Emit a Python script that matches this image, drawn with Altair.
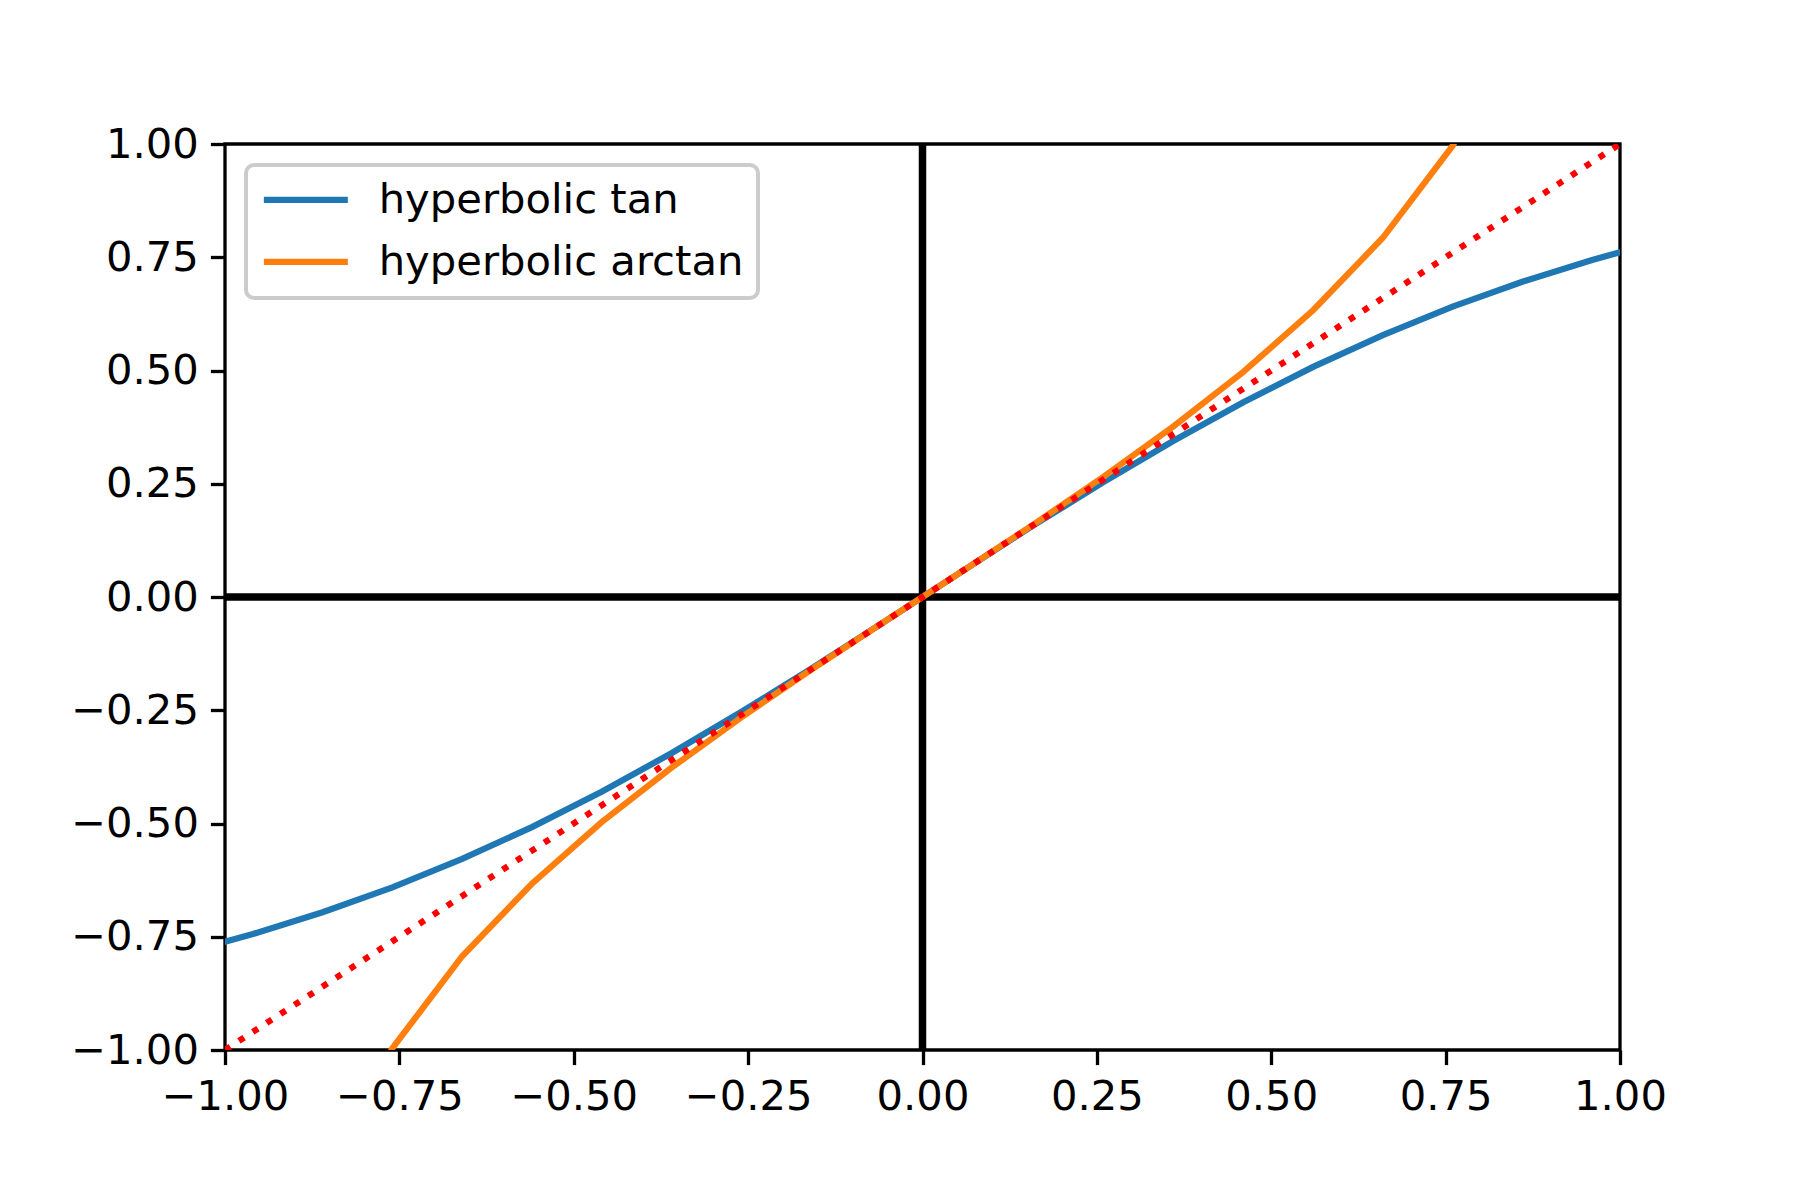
"""Hyperbolic tan / arctan against the identity line, drawn with altair."""

import altair as alt
import pandas as pd


LINE_WIDTH = 6.25
ZERO_LINE_WIDTH = 7.5
SPINE_WIDTH = 3.3
FONT = "DejaVu Sans"
FONT_SIZE = 41.7
PLOT_WIDTH = 1395
PLOT_HEIGHT = 906

# sample points
x_tan = [-1.06, -0.96, -0.86, -0.76, -0.66, -0.56, -0.46, -0.36, -0.26, -0.16, -0.06,
         0.06, 0.16, 0.26, 0.36, 0.46, 0.56, 0.66, 0.76, 0.86, 0.96, 1.06]
y_tan = [-0.786, -0.744, -0.696, -0.641, -0.578, -0.508, -0.430, -0.345, -0.254, -0.159, -0.060,
         0.060, 0.159, 0.254, 0.345, 0.430, 0.508, 0.578, 0.641, 0.696, 0.744, 0.786]

x_arctan = [-0.86, -0.76, -0.66, -0.56, -0.46, -0.36, -0.26, -0.16, -0.06,
            0.06, 0.16, 0.26, 0.36, 0.46, 0.56, 0.66, 0.76, 0.86]
y_arctan = [-1.293, -0.996, -0.793, -0.633, -0.497, -0.377, -0.266, -0.161, -0.060,
            0.060, 0.161, 0.266, 0.377, 0.497, 0.633, 0.793, 0.996, 1.293]

x_identity = [-1.0, 1.0]
y_identity = [-1.0, 1.0]

tick_values = [-1.0, -0.75, -0.5, -0.25, 0.0, 0.25, 0.5, 0.75, 1.0]
series_names = ["hyperbolic tan", "hyperbolic arctan"]
series_colors = ["#1f77b4", "#ff7f0e"]

curves = pd.concat([
    pd.DataFrame({"x": x_tan, "y": y_tan, "series": series_names[0]}),
    pd.DataFrame({"x": x_arctan, "y": y_arctan, "series": series_names[1]}),
])
identity = pd.DataFrame({"x": x_identity, "y": y_identity})
zero = pd.DataFrame({"v": [0.0]})

x_enc = alt.X("x:Q", title=None, scale=alt.Scale(domain=[-1, 1], nice=False, zero=False),
              axis=alt.Axis(values=tick_values, format=".2f"))
y_enc = alt.Y("y:Q", title=None, scale=alt.Scale(domain=[-1, 1], nice=False, zero=False),
              axis=alt.Axis(values=tick_values, format=".2f"))

vline = alt.Chart(zero).mark_rule(color="black", strokeWidth=ZERO_LINE_WIDTH).encode(
    x=alt.X("v:Q", scale=alt.Scale(domain=[-1, 1], nice=False, zero=False)))
hline = alt.Chart(zero).mark_rule(color="black", strokeWidth=ZERO_LINE_WIDTH).encode(
    y=alt.Y("v:Q", scale=alt.Scale(domain=[-1, 1], nice=False, zero=False)))

lines = alt.Chart(curves).mark_line(strokeWidth=LINE_WIDTH, clip=True).encode(
    x=x_enc,
    y=y_enc,
    color=alt.Color("series:N", sort=series_names,
                    scale=alt.Scale(domain=series_names, range=series_colors),
                    legend=alt.Legend(
                        title=None, orient="none", legendX=21, legendY=21,
                        symbolType="M-1,0H5", symbolSize=784,
                        symbolStrokeWidth=LINE_WIDTH, symbolOffset=-3,
                        labelFont=FONT, labelFontSize=FONT_SIZE, labelColor="black",
                        labelLimit=0, labelOffset=80,
                        padding=14, rowPadding=19,
                        strokeColor="#cccccc", fillColor="rgba(255,255,255,0.8)",
                        cornerRadius=8,
                    )),
    detail="series:N",
)

ident = alt.Chart(identity).mark_line(
    color="red", strokeWidth=LINE_WIDTH, strokeDash=[6.25, 10.3], strokeCap="butt", clip=True,
).encode(x="x:Q", y="y:Q")

chart = alt.layer(vline, hline, lines, ident).properties(
    width=PLOT_WIDTH,
    height=PLOT_HEIGHT,
    autosize=alt.AutoSizeParams(type="none"),
    padding={"left": 217, "top": 136, "right": 168, "bottom": 130},
).configure(
    font=FONT,
).configure_view(
    stroke="black",
    strokeWidth=SPINE_WIDTH,
).configure_axis(
    domain=False,
    grid=False,
    ticks=True,
    tickColor="black",
    tickWidth=SPINE_WIDTH,
    tickSize=14.6,
    labelFont=FONT,
    labelFontSize=FONT_SIZE,
    labelColor="black",
    labelPadding=12,
    labelOverlap=False,
    labelFlush=False,
).configure_legend(
    strokeWidth=4,
)

chart.save("out.html", embed_options={"renderer": "svg", "actions": False})
